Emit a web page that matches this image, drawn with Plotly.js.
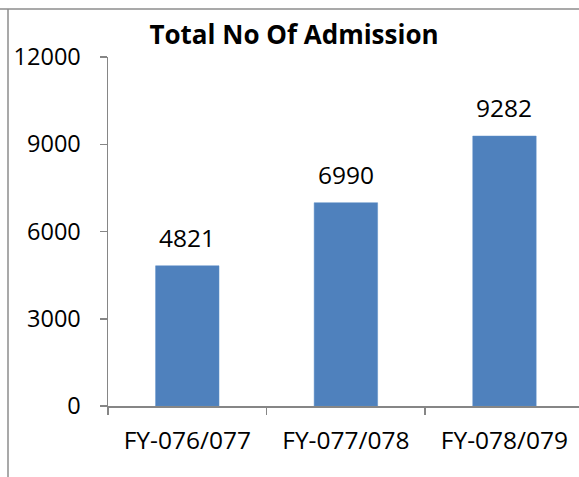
<!DOCTYPE html>
<html>
<head>
<meta charset="utf-8">
<script src="https://cdn.plot.ly/plotly-3.0.1.min.js"></script>
<style>html,body{margin:0;padding:0;background:#fff;}#chart{width:579px;height:477px;}</style>
</head>
<body>
<div id="chart"></div>
<script>
const categories = ["FY-076/077", "FY-077/078", "FY-078/079"];
const admissions = [4821, 6990, 9282];
const yTicks = [0, 3000, 6000, 9000, 12000];

const font = "Open Sans, Noto Sans, sans-serif";
const trace = {
  type: "bar",
  x: categories,
  y: admissions,
  width: 0.4,
  marker: {color: "#4F81BD", line: {color: "#5b8cc6", width: 0.5}},
  hoverinfo: "none"
};
const labelAnnotations = categories.map((c, i) => ({
  x: c, y: admissions[i], xref: "x", yref: "y",
  text: String(admissions[i]), showarrow: false,
  yanchor: "bottom", yshift: 10,
  font: {family: font, size: 24.5, color: "#000"}
}));
const layout = {
  width: 579, height: 477,
  margin: {l: 108, r: 0, t: 57, b: 70.5},
  paper_bgcolor: "#fff", plot_bgcolor: "#fff",
  showlegend: false,
  title: {text: "<b>Total No Of Admission</b>", font: {family: font, size: 26, color: "#000"},
          x: 294/579, xref: "container", xanchor: "center", y: 1 - 35/477, yref: "container", yanchor: "middle"},
  xaxis: {
    type: "category", range: [-0.5, 2.47],
    showline: true, linecolor: "#868686", linewidth: 1.5,
    ticks: "outside", tickson: "boundaries", ticklen: 7, tickcolor: "#868686", tickwidth: 1.5,
    tickfont: {family: font, size: 24.5, color: "#000"},
    ticklabelstandoff: 12,
    showgrid: false, zeroline: false, fixedrange: true
  },
  yaxis: {
    range: [0, 12000], tickvals: yTicks, ticktext: yTicks.map(String),
    showline: true, linecolor: "#868686", linewidth: 1.5,
    ticks: "outside", ticklen: 7, tickcolor: "#868686", tickwidth: 1.5,
    tickfont: {family: font, size: 23.5, color: "#000"},
    ticklabelstandoff: 14,
    showgrid: false, zeroline: false, fixedrange: true
  },
  annotations: labelAnnotations,
  shapes: [
    {type: "line", xref: "paper", yref: "paper", x0: -108/471, x1: 1.05, y0: (477-70.5-9)/349.5, y1: (477-70.5-9)/349.5, line: {color: "#8c8c8c", width: 1.5}},
    {type: "line", xref: "paper", yref: "paper", x0: -100/471, x1: -100/471, y0: -80/349.5, y1: (477-70.5-9)/349.5, line: {color: "#8c8c8c", width: 1.5}}
  ]
};
Plotly.newPlot("chart", [trace], layout, {displayModeBar: false, staticPlot: true});
</script>
</body>
</html>
